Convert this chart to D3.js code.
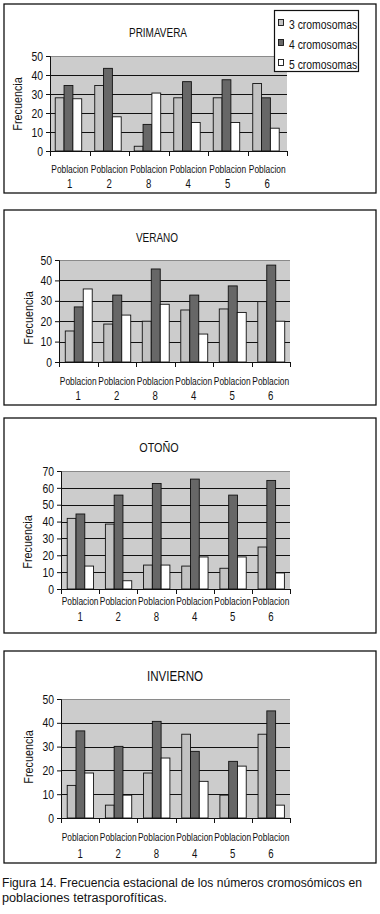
<!DOCTYPE html>
<html>
<head>
<meta charset="utf-8">
<script src="https://cdn.jsdelivr.net/npm/d3@7"></script>
<style>
  html, body { margin: 0; padding: 0; background: #fff; }
  svg { display: block; }
  text { font-family: 'Liberation Sans', Arial, sans-serif; fill: #111; }
</style>
</head>
<body>
<svg id="chart" width="380" height="914"></svg>
<script>
// ---- DATA ----
const categories = ["Poblacion 1", "Poblacion 2", "Poblacion 8", "Poblacion 4", "Poblacion 5", "Poblacion 6"];
const seriesNames = ["3 cromosomas", "4 cromosomas", "5 cromosomas"];
const seasons = ["PRIMAVERA", "VERANO", "OTOÑO", "INVIERNO"];

const primavera3 = [28, 34.5, 2.5, 28, 28, 35.5];
const primavera4 = [34.5, 43.5, 14, 36.5, 37.5, 28];
const primavera5 = [27.5, 18, 30.5, 15, 15, 12];

const verano3 = [15.2, 18.6, 20, 25.5, 26, 29.6];
const verano4 = [27, 32.8, 45.6, 32.8, 37.3, 47.5];
const verano5 = [35.8, 23, 28.3, 13.7, 24.3, 20];

const otono3 = [41.9, 38.5, 14.2, 13.6, 12.3, 24.9];
const otono4 = [44.5, 55.7, 62.6, 65.2, 55.7, 64.4];
const otono5 = [13.6, 4.9, 14.2, 19, 19, 9.5];

const invierno3 = [13.7, 5.4, 18.9, 35.2, 9.6, 35.2];
const invierno4 = [36.6, 30.1, 40.6, 28, 23.8, 45];
const invierno5 = [18.9, 9.6, 25.2, 15.4, 21.8, 5.4];

const yMaxes = [50, 50, 70, 50];
const yTicks = [[0,10,20,30,40,50],[0,10,20,30,40,50],[0,10,20,30,40,50,60,70],[0,10,20,30,40,50]];
const yLabel = "Frecuencia";
const caption = ["Figura 14. Frecuencia estacional de los números cromosómicos en", "poblaciones tetrasporofíticas."];

const seasonData = [
  [primavera3, primavera4, primavera5],
  [verano3, verano4, verano5],
  [otono3, otono4, otono5],
  [invierno3, invierno4, invierno5]
];

// ---- LAYOUT / STYLE ----
const colors = ["#c2c2c2", "#676767", "#ffffff"];
const plotBg = "#cccccc";
const SX = 0.8; // horizontal condensing of the font
const layouts = [
  {box:[4,4,376,193], left:50, right:287, top:56, bottom:151, grp:[0.12,0.79], title:[158,37,11], ylab:[17,104], labY:[173,188]},
  {box:[4,210,376,405], left:59, right:290, top:260, bottom:362, grp:[0.15,0.85], title:[157,242,11], ylab:[28,318], labY:[385,400]},
  {box:[4,418,376,633], left:61, right:290, top:471, bottom:589, grp:[0.15,0.84], title:[159,452,12], ylab:[27,542], labY:[605,621]},
  {box:[4,651,376,863], left:61, right:290, top:699, bottom:818, grp:[0.15,0.84], title:[175,681,13], ylab:[28,757], labY:[841,858]}
];

const svg = d3.select("#chart");

function ctext(parent, x, y, str, size, anchor, rot) {
  const t = parent.append("g")
    .attr("transform", `translate(${x},${y})` + (rot ? ` rotate(${rot})` : "") + ` scale(${SX},1)`);
  return t.append("text").attr("text-anchor", anchor || "start").attr("font-size", size).text(str);
}

seasons.forEach((season, si) => {
  const L = layouts[si];
  const g = svg.append("g");
  g.append("rect")
    .attr("x", L.box[0]).attr("y", L.box[1])
    .attr("width", L.box[2]-L.box[0]).attr("height", L.box[3]-L.box[1])
    .attr("fill", "#fff").attr("stroke", "#111").attr("stroke-width", 1.3);

  const x0 = d3.scaleBand().domain(categories).range([L.left, L.right]).padding(0);
  const bw = x0.bandwidth();
  const x1 = d3.scaleBand().domain(seriesNames).range([bw*L.grp[0], bw*L.grp[1]]).padding(0);
  const y = d3.scaleLinear().domain([0, yMaxes[si]]).range([L.bottom, L.top]);

  g.append("rect")
    .attr("x", L.left).attr("y", L.top)
    .attr("width", L.right-L.left).attr("height", L.bottom-L.top)
    .attr("fill", plotBg);
  g.append("line")
    .attr("x1", L.left).attr("x2", L.right)
    .attr("y1", y(yMaxes[si])+0.5).attr("y2", y(yMaxes[si])+0.5)
    .attr("stroke", "#8a8a8a").attr("stroke-width", 1);
  g.selectAll(".grid").data(yTicks[si].filter(t => t > 0 && t < yMaxes[si]))
    .enter().append("line")
    .attr("x1", L.left).attr("x2", L.right)
    .attr("y1", d => Math.round(y(d))+0.5).attr("y2", d => Math.round(y(d))+0.5)
    .attr("stroke", "#111").attr("stroke-width", 1);

  const series = seasonData[si];
  categories.forEach((cat, ci) => {
    seriesNames.forEach((sn, k) => {
      const v = series[k][ci];
      g.append("rect")
        .attr("x", x0(cat) + x1(sn) + 0.5)
        .attr("y", y(v))
        .attr("width", x1.bandwidth())
        .attr("height", y(0) - y(v))
        .attr("fill", colors[k])
        .attr("stroke", "#111").attr("stroke-width", 0.9);
    });
  });

  const yAxis = d3.axisLeft(y).tickValues(yTicks[si]).tickSize(4).tickPadding(3).tickFormat(d3.format("d"));
  const ya = g.append("g").attr("transform", `translate(${L.left},0)`).call(yAxis);
  ya.select(".domain").attr("stroke", "#111");
  ya.selectAll(".tick line").attr("stroke", "#111");
  ya.selectAll(".tick text")
    .attr("font-size", 13).attr("fill", "#111")
    .attr("font-family", "'Liberation Sans', Arial, sans-serif")
    .attr("x", null)
    .attr("transform", `translate(-7,0) scale(${SX},1)`);

  const xa = g.append("g");
  xa.append("line").attr("x1", L.left).attr("x2", L.right)
    .attr("y1", L.bottom+0.5).attr("y2", L.bottom+0.5).attr("stroke", "#111");
  const bounds = categories.map(c => x0(c)).concat([L.right]);
  xa.selectAll(".xt").data(bounds).enter().append("line")
    .attr("x1", d => Math.round(d)+0.5).attr("x2", d => Math.round(d)+0.5)
    .attr("y1", L.bottom).attr("y2", L.bottom+5).attr("stroke", "#111");

  categories.forEach(cat => {
    const parts = cat.split(" ");
    const cx = x0(cat) + bw/2;
    ctext(g, cx, L.labY[0], parts[0], 10.5, "middle");
    ctext(g, cx, L.labY[1], parts[1], 12, "middle");
  });

  ctext(g, L.title[0], L.title[1], season, L.title[2] + 1.5, "middle");

  ctext(g, L.ylab[0], L.ylab[1], yLabel, 13.5, "middle", -90).attr("dy", "0.35em");

  if (si === 0) {
    const lg = g.append("g");
    lg.append("rect").attr("x", 274.5).attr("y", 10.5).attr("width", 84).attr("height", 61)
      .attr("fill", "#fff").attr("stroke", "#111").attr("stroke-width", 1.2);
    seriesNames.forEach((sn, k) => {
      const yy = 24 + k*20;
      lg.append("rect").attr("x", 278.5).attr("y", yy-4.5).attr("width", 5).attr("height", 6)
        .attr("fill", colors[k]).attr("stroke", "#111").attr("stroke-width", 0.9);
      ctext(lg, 289, yy, sn, 13, "start").attr("dy", "0.35em");
    });
  }
});

const capWidths = [360, 165];
caption.forEach((line, i) => {
  svg.append("text")
    .attr("x", 2).attr("y", 887 + i*15)
    .attr("font-size", 12.5)
    .attr("textLength", capWidths[i]).attr("lengthAdjust", "spacingAndGlyphs")
    .text(line);
});
</script>
</body>
</html>
